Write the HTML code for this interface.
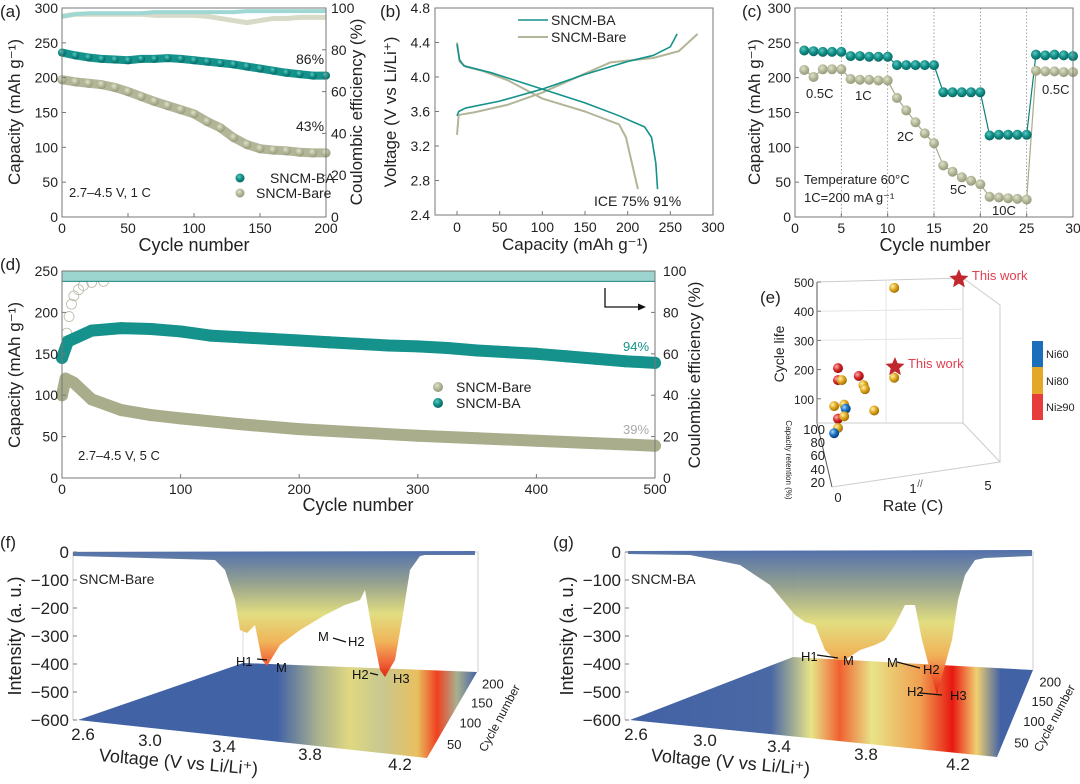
<!DOCTYPE html>
<html><head><meta charset="utf-8"><style>
html,body{margin:0;padding:0;background:#fff}
svg{display:block;font-family:"Liberation Sans",Arial,sans-serif}
</style></head><body>
<svg id="fig" width="1080" height="784" viewBox="0 0 1080 784">
<defs>
<linearGradient id="surfF" x1="0" y1="0" x2="0" y2="1">
<stop offset="0" stop-color="#4a6aa8"/><stop offset="0.25" stop-color="#8f9c8a"/><stop offset="0.5" stop-color="#e0dc7a"/><stop offset="0.72" stop-color="#f0b050"/><stop offset="0.88" stop-color="#f06030"/><stop offset="1" stop-color="#e02010"/></linearGradient>
<linearGradient id="floorF" x1="0" y1="0" x2="1" y2="0">
<stop offset="0" stop-color="#4262a6"/><stop offset="0.5" stop-color="#4262a6"/><stop offset="0.6" stop-color="#a8b090"/><stop offset="0.68" stop-color="#e0d880"/><stop offset="0.76" stop-color="#c8c890"/><stop offset="0.85" stop-color="#e8c060"/><stop offset="0.9" stop-color="#f04020"/><stop offset="0.95" stop-color="#a8b090"/><stop offset="1" stop-color="#4262a6"/></linearGradient>
<linearGradient id="floorG" x1="0" y1="0" x2="1" y2="0">
<stop offset="0" stop-color="#4262a6"/><stop offset="0.35" stop-color="#4a68a4"/><stop offset="0.45" stop-color="#e8e488"/><stop offset="0.52" stop-color="#f06030"/><stop offset="0.6" stop-color="#e8e488"/><stop offset="0.72" stop-color="#f0a050"/><stop offset="0.8" stop-color="#e81810"/><stop offset="0.86" stop-color="#f0d070"/><stop offset="0.92" stop-color="#4262a6"/><stop offset="1" stop-color="#4262a6"/></linearGradient>
<radialGradient id="ballY" cx="0.35" cy="0.35" r="0.7"><stop offset="0" stop-color="#fff3b0"/><stop offset="0.5" stop-color="#e0a820"/><stop offset="1" stop-color="#9a6a00"/></radialGradient>
<radialGradient id="ballR" cx="0.35" cy="0.35" r="0.7"><stop offset="0" stop-color="#ffb0b0"/><stop offset="0.5" stop-color="#d82828"/><stop offset="1" stop-color="#8a0a0a"/></radialGradient>
<radialGradient id="ballB" cx="0.35" cy="0.35" r="0.7"><stop offset="0" stop-color="#a8d8ff"/><stop offset="0.5" stop-color="#1870c0"/><stop offset="1" stop-color="#0a3a70"/></radialGradient>
<radialGradient id="dotT" cx="0.4" cy="0.35" r="0.7"><stop offset="0" stop-color="#5cc8c0"/><stop offset="0.5" stop-color="#128f88"/><stop offset="1" stop-color="#06605a"/></radialGradient>
<radialGradient id="dotG" cx="0.4" cy="0.35" r="0.7"><stop offset="0" stop-color="#dfe2cc"/><stop offset="0.5" stop-color="#b4b898"/><stop offset="1" stop-color="#929476"/></radialGradient>
</defs>
<g id="root"></g>
</svg>
<script>
// ---------- panel (a) data ----------
const aCycles=[0,10,20,30,40,50,60,70,80,90,100,110,120,130,140,150,160,170,180,190,200];
const aBA=[236,232,229,227,226,225,227,227,228,227,225,223,221,219,216,213,210,207,205,203,203];
const aBare=[197,194,192,190,186,180,173,166,160,154,148,137,128,114,104,98,96,95,93,92,92];
const aCEBA=[96,97,97.5,97.5,97.5,97.5,97.5,98,98,98,98,98,98,98,98.5,98.5,98.5,98.5,98.5,98.5,98.5];
const aCEBare=[96,97,97,97,97,97,97,96.5,96.5,96.5,96.5,96,95,94,93,94,95,95,95.5,95.5,95.5];
const aYTicks=[0,50,100,150,200,250,300];
const aXTicks=[0,50,100,150,200];
const aRTicks=[0,20,40,60,80,100];
// ---------- panel (b) data ----------
const bBAchgCap=[0,2,10,50,100,150,200,230,250,258];
const bBAchgV=[3.55,3.6,3.64,3.72,3.86,4.03,4.18,4.25,4.35,4.5];
const bBarechgCap=[0,2,20,60,100,150,180,230,260,282];
const bBarechgV=[3.33,3.56,3.59,3.68,3.82,4.04,4.17,4.22,4.3,4.5];
const bBAdisCap=[0,3,8,40,100,150,190,220,228,233,235];
const bBAdisV=[4.38,4.2,4.13,4.05,3.86,3.7,3.55,3.42,3.3,3.0,2.7];
const bBaredisCap=[0,3,10,30,60,100,150,190,198,205,212];
const bBaredisV=[4.4,4.18,4.12,4.07,3.96,3.75,3.6,3.45,3.3,3.0,2.7];
const bYTicks=[2.4,2.8,3.2,3.6,4.0,4.4,4.8];
const bXTicks=[0,50,100,150,200,250,300];
// ---------- panel (c) data ----------
const cCycles=[1,2,3,4,5,6,7,8,9,10,11,12,13,14,15,16,17,18,19,20,21,22,23,24,25,26,27,28,29,30];
const cBA=[239,238,237,237,237,231,231,230,230,230,218,218,218,218,218,179,179,179,179,179,117,118,118,118,118,233,232,233,232,231];
const cBare=[211,201,212,212,212,198,197,197,196,196,171,153,136,120,106,74,65,57,52,47,29,28,27,26,25,210,209,209,208,208];
const cYTicks=[0,50,100,150,200,250,300];
const cXTicks=[0,5,10,15,20,25,30];
// ---------- panel (d) data ----------
const dCyclesBA=[0,5,25,50,75,100,125,150,175,200,225,250,275,300,325,350,375,400,425,450,475,500];
const dBA=[145,165,178,181,180,177,172,170,168,166,164,162,160,159,157,154,152,150,147,144,141,139];
const dCyclesBare=[0,3,10,25,50,75,100,150,200,250,300,350,400,450,500];
const dBare=[100,120,115,95,82,76,72,65,59,55,51,48,45,42,39];
const dCEcycles=[2,4,6,8,10,14,18,25,35];
const dCEBare=[62,70,78,84,88,91,93,94.5,95];
const dYTicks=[0,50,100,150,200,250];
const dXTicks=[0,100,200,300,400,500];
const dRTicks=[0,20,40,60,80,100];
// ---------- panel (e) data ----------
const eRate=[0.0,0.0,0.05,0.27,0.33,0.35,0.73,0.73,-0.05,0.08,0.1,0.47,0.0,0.08,0.0,-0.05];
const eLife=[205,164,164,178,147,133,172,480,75,80,66,60,32,40,0,-18];
const eGroup=["r","r","y","r","y","y","y","y","y","y","b","y","r","y","y","b"];
const eStarRate=[0.74,1.57];
const eStarLife=[209,510];
const eYTicks=[100,200,300,400,500];

const NS="http://www.w3.org/2000/svg";
const root=document.getElementById('root');
function el(tag,attrs,parent){const e=document.createElementNS(NS,tag);for(const k in attrs)e.setAttribute(k,attrs[k]);(parent||root).appendChild(e);return e;}
function txt(s,x,y,size,anchor,parent,extra){const t=el('text',Object.assign({x:x,y:y,'font-size':size,'text-anchor':anchor||'start',fill:'#222'},extra||{}),parent);t.textContent=s;return t;}
function lin(d0,d1,p0,p1){return v=>p0+(v-d0)*(p1-p0)/(d1-d0);}

function frame(g,x0,y0,x1,y1){const r=el('rect',{x:x0,y:y0,width:x1-x0,height:y1-y0,fill:'none',stroke:'#777','stroke-width':1},g);}
function xTicks(g,ticks,X,y,lblY,size){ticks.forEach(t=>{el('line',{x1:X(t),x2:X(t),y1:y,y2:y-4,stroke:'#777'},g);const l=txt(String(t),X(t),lblY,size||14,'middle',g);});}
function yTicks(g,ticks,Y,x,lblX,size,fmt){ticks.forEach(t=>{el('line',{x1:x,x2:x+4,y1:Y(t),y2:Y(t),stroke:'#777'},g);const l=txt(fmt?fmt(t):String(t),lblX,Y(t)+5,size||14,'end',g);});}
function rTicks(g,ticks,Y,x,lblX,size){ticks.forEach(t=>{el('line',{x1:x,x2:x-4,y1:Y(t),y2:Y(t),stroke:'#777'},g);const l=txt(String(t),lblX,Y(t)+5,size||14,'start',g);});}
function vtitle(s,x,y,size,g,name){const t=txt(s,x,y,size,'middle',g,{transform:`rotate(-90 ${x} ${y})`});return t;}
function dots(g,xs,ys,X,Y,fill,r,name,stroke){const pts=xs.map((v,i)=>X(v)+','+Y(ys[i])).join(' ');const pl=el('polyline',{points:pts,fill:'none',stroke:stroke,'stroke-width':r*2,'stroke-linejoin':'round','stroke-linecap':'round'},g);xs.forEach((v,i)=>{const c=el('circle',{cx:X(v),cy:Y(ys[i]),r:r,fill:fill},g);});}
function line(g,xs,ys,X,Y,color,w,name){const p=el('polyline',{points:xs.map((v,i)=>X(v)+','+Y(ys[i])).join(' '),fill:'none',stroke:color,'stroke-width':w,'stroke-linejoin':'round'},g);}
function panelLabel(s,x,y){const t=txt(s,x,y,17,'start');}
const TEAL='#14928b', GREY='#b3b598';

// ===== (a) =====
(function(){
const g=el('g',{});
const X=lin(0,200,62,326),Y=lin(0,300,217,8),R=lin(0,100,217,8);
line(g,aCycles,aCEBare,X,R,'#d8dac8',5,'bare-ce-line');
line(g,aCycles,aCEBA,X,R,'#9fd7d3',4,'ba-ce-line');
dots(g,aCycles,aBA,X,Y,'url(#dotT)',4,'ba-capacity',TEAL);
dots(g,aCycles,aBare,X,Y,'url(#dotG)',4.5,'bare-capacity',GREY);
frame(g,62,8,326,217);
xTicks(g,aXTicks,X,217,233);yTicks(g,aYTicks,Y,62,58);rTicks(g,aRTicks,R,326,331);
const xt=txt('Cycle number',194,251,18,'middle',g);
vtitle('Capacity (mAh g⁻¹)',20,112,17,g,'y-axis-title');
vtitle('Coulombic efficiency (%)',362,112,17,g,'right-axis-title');
txt('86%',296,64,14,'start',g);
txt('43%',296,131,14,'start',g);
txt('2.7–4.5 V, 1 C',69,197,13,'start',g);
const lg=el('g',{},g);
el('circle',{cx:240,cy:178,r:4.5,fill:'url(#dotT)'},lg);txt('SNCM-BA',270,183,14,'start',lg);
el('circle',{cx:240,cy:193,r:4.5,fill:'url(#dotG)'},lg);txt('SNCM-Bare',256,198,14,'start',lg);
})();
panelLabel('(a)',0,17);

// ===== (b) =====
(function(){
const g=el('g',{});
const X=lin(0,300,457,713),Y=lin(2.4,4.8,215,8);
line(g,bBarechgCap,bBarechgV,X,Y,GREY,2,'bare-charge-curve');
line(g,bBaredisCap,bBaredisV,X,Y,GREY,2,'bare-discharge-curve');
line(g,bBAchgCap,bBAchgV,X,Y,TEAL,1.6,'ba-charge-curve');
line(g,bBAdisCap,bBAdisV,X,Y,TEAL,1.6,'ba-discharge-curve');
frame(g,435,8,713,215);
xTicks(g,bXTicks,X,215,232);yTicks(g,bYTicks,Y,435,430,14,v=>v.toFixed(1));
const xt=txt('Capacity (mAh g⁻¹)',575,250,17,'middle',g);
vtitle('Voltage (V vs Li/Li⁺)',396,112,17,g,'y-axis-title');
txt('ICE  75%  91%',594,206,14,'start',g);
const lg=el('g',{},g);
el('line',{x1:518,x2:548,y1:20,y2:20,stroke:TEAL,'stroke-width':1.6},lg);txt('SNCM-BA',551,25,14,'start',lg);
el('line',{x1:518,x2:548,y1:37,y2:37,stroke:GREY,'stroke-width':2},lg);txt('SNCM-Bare',551,42,14,'start',lg);
})();
panelLabel('(b)',380,17);

// ===== (c) =====
(function(){
const g=el('g',{});
const X=lin(0,30,795,1073),Y=lin(0,300,217,8);
[5,10,15,20,25].forEach(v=>el('line',{x1:X(v),x2:X(v),y1:8,y2:217,stroke:'#888','stroke-dasharray':'1.5,2','stroke-width':0.8},g));
line(g,cCycles,cBare,X,Y,'#a8ab88',1.2,'bare-line');
line(g,cCycles,cBA,X,Y,'#0f8078',1.2,'ba-line');
cCycles.forEach((c,i)=>{const p=el('circle',{cx:X(c),cy:Y(cBare[i]),r:5,fill:'url(#dotG)'},g);
const q=el('circle',{cx:X(c),cy:Y(cBA[i]),r:5,fill:'url(#dotT)'},g);});
frame(g,795,8,1073,217);
xTicks(g,cXTicks,X,217,233);yTicks(g,cYTicks,Y,795,791);
const xt=txt('Cycle number',935,251,18,'middle',g);
vtitle('Capacity (mAh g⁻¹)',760,112,17,g,'y-axis-title');
[['0.5C',806,98],['1C',855,100],['2C',897,141],['5C',950,194],['10C',992,215],['0.5C',1042,94]].forEach(a=>{const t=txt(a[0],a[1],a[2],13,'start',g);});
txt('Temperature 60°C',804,184,13,'start',g);
txt('1C=200 mA g⁻¹',804,202,13,'start',g);
})();
panelLabel('(c)',742,17);

// ===== (d) =====
(function(){
const g=el('g',{});
const X=lin(0,500,62,655),Y=lin(0,250,478,271),R=lin(0,100,478,271);
dCEcycles.forEach((c,i)=>{const e=el('circle',{cx:X(c),cy:R(dCEBare[i]),r:5,fill:'none',stroke:'#b8baa4','stroke-width':0.8},g);});
el('rect',{x:62,y:R(100),width:593,height:R(95)-R(100),fill:'#9cd4cf',stroke:'#1a7f79','stroke-width':1},g);
dots(g,dCyclesBA,dBA,X,Y,TEAL,6,'ba-capacity',TEAL);
dots(g,dCyclesBare,dBare,X,Y,'#a9ad8c',6,'bare-capacity','#a9ad8c');
frame(g,62,271,655,478);
xTicks(g,dXTicks,X,478,494);yTicks(g,dYTicks,Y,62,58);rTicks(g,dRTicks,R,655,663);
const xt=txt('Cycle number',358,511,18,'middle',g);
vtitle('Capacity (mAh g⁻¹)',20,375,17,g,'y-axis-title');
vtitle('Coulombic efficiency (%)',700,375,17,g,'right-axis-title');
const a=txt('94%',623,351,13,'start',g,{fill:TEAL});
const b=txt('39%',623,434,13,'start',g,{fill:'#aaa'});
txt('2.7–4.5 V, 5 C',78,460,13,'start',g);
const ar=el('path',{d:'M605 288 V307 H640',fill:'none',stroke:'#111','stroke-width':1.3},g);
el('path',{d:'M646 307 L638 303.5 L638 310.5Z',fill:'#111'},g);
const lg=el('g',{},g);
el('circle',{cx:438,cy:387,r:5,fill:'url(#dotG)'},lg);txt('SNCM-Bare',456,392,14,'start',lg);
el('circle',{cx:438,cy:403,r:5,fill:'url(#dotT)'},lg);txt('SNCM-BA',456,408,14,'start',lg);
})();
panelLabel('(d)',0,270);

// ===== (e) =====
(function(){
const g=el('g',{});
const X=lin(0,1,838,915),Y=lin(0,500,428,282);
const gl='#ccc';
[['M817 282 L817 423 L832 487','frame-left'],['M817 282 L963 278 L963 423 L817 423','back-wall'],['M963 278 L1000 305 L1000 462 L963 423','side-wall'],['M832 487 L1000 462','floor-front']].forEach(p=>{const e=el('path',{d:p[0],fill:'none',stroke:p[1]=='frame-left'?'#555':gl,'stroke-width':1},g);});
[300,400].forEach(v=>el('line',{x1:817,x2:963,y1:Y(v),y2:Y(v)-2,stroke:'#e4e4e4'},g));
el('line',{x1:886,x2:886,y1:280,y2:423,stroke:'#e4e4e4'},g);
yTicks(g,eYTicks,Y,817,814,12);
vtitle('Cycle life',784,354,14,g,'y-axis-title');
[[100,430],[80,443],[60,456],[40,470],[20,483]].forEach(t=>{const l=txt(String(t[0]),825,t[1]+4,13,'end',g);});
const rt=txt('Capacity retention (%)',786,460,8,'middle',g,{transform:'rotate(90 786 460)'});
[['0',838,502],['1',913,493],['5',988,490]].forEach(t=>{const l=txt(t[0],t[1],t[2],13,'middle',g);});
txt('//',920,487,10,'middle',g,{fill:'#555'});
const xt=txt('Rate (C)',913,511,16,'middle',g);
const fills={r:'url(#ballR)',y:'url(#ballY)',b:'url(#ballB)'};
eRate.forEach((r,i)=>{const c=el('circle',{cx:X(r),cy:Y(eLife[i]),r:5,fill:fills[eGroup[i]]},g);});
eStarRate.forEach((r,i)=>{const cx=X(r),cy=Y(eStarLife[i]);let d='';for(let k=0;k<10;k++){const a=-Math.PI/2+k*Math.PI/5,rr=k%2?4.5:10;d+=(k?'L':'M')+(cx+rr*Math.cos(a)).toFixed(1)+' '+(cy+rr*Math.sin(a)).toFixed(1);}
const s=el('path',{d:d+'Z',fill:'#c0282e'},g);
const t=txt('This work',cx+13,cy+1,13,'start',g,{fill:'#e04050'});});
const lg=el('g',{},g);
el('rect',{x:1032,y:341,width:11,height:26,fill:'#1a6fb8'},lg);el('rect',{x:1032,y:367,width:11,height:27,fill:'#e3a82a'},lg);el('rect',{x:1032,y:394,width:11,height:26,fill:'#e63c3c'},lg);
txt('Ni60',1046,358,11,'start',lg);txt('Ni80',1046,385,11,'start',lg);txt('Ni≥90',1046,411,11,'start',lg);
})();
panelLabel('(e)',760,303);

// ===== (f), (g) 3D surfaces =====
function surface(name,ox,label,floorPts,wallR,surfPath,floorGrad,annots,xt){
const g=el('g',{});
const Y=lin(0,-600,552,720);
const w=el('path',{d:`M${ox} 552 L${wallR} 552 L${wallR} ${floorPts[2][1]} M${ox} 552 L${ox} 720`,fill:'none',stroke:'#ccc'},g);
el('line',{x1:floorPts[1][0],x2:floorPts[1][0],y1:552,y2:floorPts[1][1],stroke:'#ddd'},g);
const f=el('polygon',{points:floorPts.map(p=>p.join(',')).join(' '),fill:floorGrad},g);
const s=el('path',{d:surfPath,fill:'url(#surfF)',opacity:0.95},g);
[0,-100,-200,-300,-400,-500,-600].forEach(v=>{el('line',{x1:ox,x2:ox+4,y1:Y(v),y2:Y(v),stroke:'#777'},g);const t=txt(v==0?'0':'−'+(-v),ox-4,Y(v)+6,17,'end',g);});
vtitle('Intensity (a. u.)',ox-52,636,18,g,'z-axis-title');
txt(label,ox+6,584,14,'start',g);
xt.forEach(t=>{const e=txt(t[0],t[1],t[2],17,'middle',g);});
const vx=txt('Voltage (V vs Li/Li⁺)',ox+105,768,18,'middle',g,{transform:`rotate(5 ${ox+105} 768)`});
const fr=floorPts[3],br=floorPts[2];
[['200',0.1],['150',0.32],['100',0.55],['50',0.8]].forEach(c=>{const x=br[0]+(fr[0]-br[0])*c[1]+10,y=br[1]+(fr[1]-br[1])*c[1]+8;const e=txt(c[0],x,y,13,'start',g);});
const cn=txt('Cycle number',wallR+25,720,12,'middle',g,{transform:`rotate(-62 ${wallR+25} 720)`});
annots.forEach(a=>{const e=txt(a[0],a[1],a[2],13,'start',g,{fill:'#111'});});
return g;}
surface('panel-f-bare-dqdv',73,'SNCM-Bare',[[78,720],[243,663],[477,672],[427,758]],478,
'M73 552 L475 551 L475 555 L425 555 L420 556 L410 570 L402 620 L395 660 L385 677 L380 670 L372 630 L365 590 L360 600 L345 605 L325 615 L300 630 L280 645 L267 666 L262 660 L255 625 L247 633 L240 630 L235 600 L225 570 L215 560 L73 556 Z',
'url(#floorF)',[['M',318,641],['H2',348,646],['H1',236,666],['M',276,672],['H2',352,679],['H3',393,683]],
[['2.6',83,740],['3.0',150,746],['3.4',224,752],['3.8',310,760],['4.2',400,770]]);
el('path',{d:'M346 642 L333 638 M267 660 L257 659 M378 675 L370 673',stroke:'#111','stroke-width':1.2});
surface('panel-g-ba-dqdv',625,'SNCM-BA',[[630,720],[793,657],[1033,670],[997,757]],1033,
'M628 551 L1032 550 L1032 556 L985 558 L975 560 L965 575 L958 600 L952 640 L945 665 L937 695 L930 670 L922 640 L915 605 L905 605 L895 625 L885 640 L875 645 L860 650 L845 660 L835 660 L825 650 L815 625 L805 622 L795 615 L770 585 L740 565 L690 555 L628 554 Z',
'url(#floorG)',[['H1',801,661],['M',843,665],['M',887,667],['H2',923,674],['H2',907,696],['H3',950,700]],
[['2.6',636,740],['3.0',705,746],['3.4',779,752],['3.8',866,760],['4.2',958,770]]);
el('path',{d:'M817 655 L838 658 M897 662 L920 668 M920 693 L942 695',stroke:'#111','stroke-width':1.2});
panelLabel('(f)',0,548);
panelLabel('(g)',553,548);
</script>
</body></html>
